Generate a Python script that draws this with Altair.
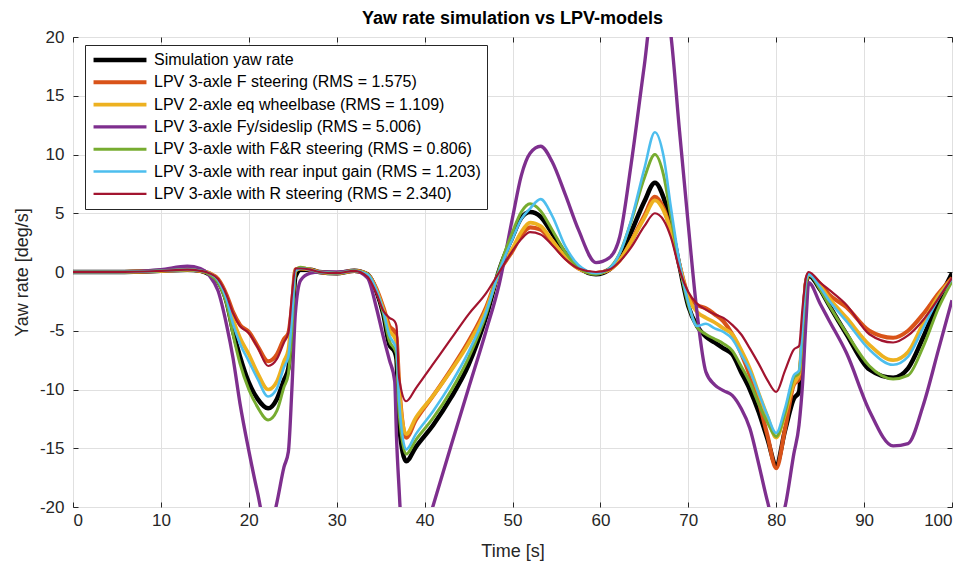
import altair as alt
import pandas as pd

# time samples [s]
T = [0, 5, 10, 13, 14.5, 15.5, 16.5, 17.5, 18.2, 19,
     20, 21, 22.2, 23.2, 24, 24.5, 24.9, 25.3, 25.9, 27,
     28, 30, 32, 33.5, 34.5, 35.3, 36, 36.6, 36.8, 37.1,
     37.9, 39, 41, 43, 45, 47, 48.5, 50, 51, 52,
     53.2, 54.5, 56, 57.5, 59.5, 61, 62.2, 63.5, 65, 66.2,
     67.2, 68, 69, 70, 71, 72, 73, 74, 75, 76,
     77, 78, 79, 80, 81, 82, 82.6, 83, 83.4, 83.7,
     85, 86, 88, 90.6, 93.3, 95, 96.7, 98.5, 100]

SIM = [0.0, 0.0, 0.1, 0.2, 0.1, -0.2, -0.8, -2.6, -5.0, -7.2,
       -9.4, -10.8, -11.6, -10.8, -9.2, -8.2, -5.0, -0.4, 0.2, 0.2,
       0.0, -0.1, 0.1, -0.2, -1.6, -3.6, -6.2, -6.8, -7.4, -13.0,
       -16.1, -14.9, -13.0, -10.7, -7.9, -3.8, 0.2, 3.0, 4.6, 5.1,
       4.7, 3.3, 1.6, 0.4, -0.2, 0.2, 1.3, 3.4, 6.0, 7.6,
       6.3, 4.1, 0.5, -2.9, -4.6, -5.5, -6.0, -6.5, -7.0, -8.5,
       -10.0, -11.9, -14.2, -16.4, -13.5, -10.8, -10.2, -6.0, -1.0, -0.3,
       -1.5, -2.8, -5.3, -8.3, -9.0, -8.2, -5.6, -2.4, -0.1]

F_STEER = [0.0, 0.0, 0.1, 0.2, 0.1, -0.1, -0.6, -2.0, -3.4, -4.5,
           -5.1, -6.3, -7.6, -7.0, -5.7, -5.2, -3.0, 0.2, 0.3, 0.2,
           0.0, -0.1, 0.1, -0.2, -1.4, -3.0, -4.6, -5.1, -5.6, -9.5,
           -14.1, -12.6, -10.5, -8.3, -5.9, -3.0, 0.0, 1.8, 3.1, 3.8,
           3.6, 2.5, 1.2, 0.3, -0.1, 0.2, 1.0, 2.6, 4.8, 6.4,
           5.4, 3.6, 0.6, -2.0, -2.8, -3.1, -3.6, -4.2, -5.3, -6.9,
           -8.8, -11.0, -13.9, -16.7, -13.4, -9.6, -9.1, -5.5, -0.8, -0.2,
           -1.0, -1.9, -3.0, -5.0, -5.6, -5.0, -3.6, -1.8, -0.5]

EQ_WB = [0.0, 0.0, 0.1, 0.2, 0.1, -0.1, -0.7, -2.2, -4.0, -5.6,
         -7.0, -8.6, -10.0, -9.3, -7.6, -6.6, -3.5, 0.1, 0.3, 0.2,
         0.0, -0.1, 0.1, -0.2, -1.5, -3.2, -5.0, -5.6, -6.0, -10.0,
         -13.8, -12.4, -10.5, -8.4, -6.1, -3.2, 0.0, 2.0, 3.4, 4.2,
         3.9, 2.7, 1.3, 0.3, -0.1, 0.2, 1.0, 2.6, 4.6, 6.1,
         5.2, 3.5, 0.6, -2.2, -3.4, -3.9, -4.3, -4.8, -5.3, -6.6,
         -8.2, -10.3, -12.3, -14.1, -12.1, -9.5, -8.7, -5.0, -0.8, -0.2,
         -1.2, -2.2, -3.9, -6.2, -7.5, -6.8, -4.4, -2.0, -0.6]

FY_SLIP = [0.0, 0.0, 0.2, 0.5, 0.3, -0.3, -1.6, -4.6, -7.3, -11.2,
           -15.2, -18.8, -22.5, -19.6, -16.6, -15.3, -10.0, -3.5, -0.7, -0.1,
           0.0, 0.0, 0.1, -0.5, -3.0, -5.5, -7.5, -9.3, -14.0, -18.5,
           -27.0, -24.5, -19.8, -14.8, -9.9, -5.0, -1.0, 4.6, 8.2, 10.1,
           10.7, 9.4, 6.6, 3.6, 0.8, 1.2, 3.0, 9.2, 17.6, 24.0,
           24.0, 20.3, 12.0, 4.0, -3.5, -8.5, -9.6, -10.1, -10.5, -11.6,
           -13.3, -16.3, -19.5, -22.0, -20.0, -15.5, -13.0, -9.5, -4.0, -0.9,
           -2.7, -4.1, -6.9, -11.8, -14.8, -14.6, -11.4, -6.5, -2.4]

FR_STEER = [0.0, 0.0, 0.1, 0.2, 0.1, -0.2, -0.9, -2.8, -5.3, -7.8,
            -10.0, -11.5, -12.6, -11.8, -9.8, -8.7, -5.0, 0.1, 0.4, 0.2,
            0.0, -0.1, 0.1, -0.2, -1.6, -3.5, -5.9, -6.6, -7.0, -12.0,
            -15.5, -14.3, -12.4, -10.1, -7.3, -3.6, 0.3, 3.4, 5.1, 5.8,
            5.2, 3.6, 1.7, 0.4, -0.2, 0.3, 1.6, 4.3, 8.0, 10.0,
            8.2, 4.8, 0.6, -2.8, -4.7, -5.3, -5.7, -6.1, -6.7, -8.0,
            -9.4, -11.2, -12.8, -14.0, -12.0, -9.0, -8.6, -5.0, -0.9, -0.2,
            -1.5, -2.8, -5.2, -8.0, -9.1, -8.8, -6.4, -3.0, -0.8]

REAR_GAIN = [0.0, 0.0, 0.1, 0.2, 0.1, -0.1, -0.7, -2.4, -4.4, -6.1,
             -7.6, -9.1, -10.6, -9.9, -8.1, -7.2, -4.0, 0.1, 0.3, 0.2,
             0.0, -0.1, 0.1, -0.2, -1.5, -3.3, -5.4, -6.2, -6.6, -11.0,
             -15.1, -13.8, -11.8, -9.5, -6.8, -3.4, 0.1, 2.8, 4.5, 5.4,
             6.2, 4.8, 2.2, 0.6, -0.1, 0.3, 1.6, 4.4, 8.8, 11.9,
             9.8, 5.6, 0.8, -2.6, -4.6, -4.4, -4.8, -5.1, -5.7, -7.0,
             -8.4, -10.3, -12.2, -13.7, -11.6, -8.8, -8.4, -4.5, -0.7, -0.2,
             -1.3, -2.4, -4.2, -6.6, -7.9, -7.2, -4.8, -2.2, -0.6]

R_STEER = [0.0, 0.0, 0.1, 0.2, 0.1, -0.1, -0.6, -2.0, -3.5, -4.6,
           -5.2, -6.4, -8.0, -7.4, -6.0, -5.2, -2.0, 0.3, 0.3, 0.2,
           0.0, -0.1, 0.1, -0.4, -1.8, -3.3, -3.9, -4.2, -4.6, -9.0,
           -11.0, -9.9, -7.8, -5.7, -3.6, -1.8, 0.0, 1.8, 2.8, 3.4,
           3.2, 2.3, 1.1, 0.3, 0.0, 0.2, 0.9, 2.1, 3.9, 5.0,
           4.4, 3.0, 0.2, -1.7, -2.7, -3.2, -3.6, -3.9, -4.5, -5.3,
           -6.5, -7.8, -9.2, -10.2, -8.4, -6.6, -6.3, -3.0, -0.4, 0.0,
           -0.9, -1.5, -2.8, -5.3, -6.0, -5.4, -4.1, -2.2, -0.5]

LABELS = ["Simulation yaw rate",
          "LPV 3-axle F steering (RMS = 1.575)",
          "LPV 2-axle eq wheelbase (RMS = 1.109)",
          "LPV 3-axle Fy/sideslip (RMS = 5.006)",
          "LPV 3-axle with F&R steering (RMS = 0.806)",
          "LPV 3-axle with rear input gain (RMS = 1.203)",
          "LPV 3-axle with R steering (RMS = 2.340)"]
COLORS = ["#000000", "#D95319", "#EDB120", "#7E2F8E", "#77AC30", "#4DBEEE", "#A2142F"]
WIDTHS = [4.5, 2.2, 2.2, 2.2, 2.2, 2.2, 2.2]
X_TICKS = [0, 10, 20, 30, 40, 50, 60, 70, 80, 90, 100]
Y_TICKS = [-20, -15, -10, -5, 0, 5, 10, 15, 20]

SERIES = [SIM, F_STEER, EQ_WB, FY_SLIP, FR_STEER, REAR_GAIN, R_STEER]
rows = []
for lab, vals in zip(LABELS, SERIES):
    for t, v in zip(T, vals):
        rows.append({"t": t, "v": v, "series": lab})
df = pd.DataFrame(rows)
ext = pd.DataFrame({"t": [X_TICKS[0], X_TICKS[-1]], "v": [Y_TICKS[0], Y_TICKS[-1]]})

FONT = "Liberation Sans"
TXT = "#262626"
GRID = "#e0e0e0"
HYPHEN = "replace(datum.label, '\u2212', '-')"

xscale = alt.Scale(domain=[0, 100], nice=False, zero=False)
yscale = alt.Scale(domain=[-20, 20], nice=False, zero=False)

legend = alt.Legend(
    title=None, orient="none", legendX=12, legendY=8,
    symbolType="stroke", symbolSize=2800, clipHeight=18, rowPadding=4.3,
    labelFont=FONT, labelFontSize=16, labelColor="#000000", labelLimit=600,
    labelOffset=5, padding=6, fillColor="white", strokeColor=TXT, cornerRadius=0,
)

lines = alt.Chart(df).mark_line(clip=True, interpolate="monotone").encode(
    x=alt.X("t:Q", scale=xscale,
            axis=alt.Axis(orient="bottom", values=X_TICKS, title="Time [s]", grid=True,
                          gridColor=GRID, ticks=False, tickSize=0, domain=False,
                          labelFontSize=17, labelPadding=5, titleFontSize=18,
                          titlePadding=14, labelExpr=HYPHEN)),
    y=alt.Y("v:Q", scale=yscale,
            axis=alt.Axis(orient="left", values=Y_TICKS, title="Yaw rate [deg/s]", grid=True,
                          gridColor=GRID, ticks=False, tickSize=0, domain=False,
                          labelFontSize=17, labelPadding=9, titleFontSize=18,
                          titlePadding=8, labelExpr=HYPHEN)),
    color=alt.Color("series:N", scale=alt.Scale(domain=LABELS, range=COLORS), legend=legend),
    strokeWidth=alt.StrokeWidth("series:N", scale=alt.Scale(domain=LABELS, range=WIDTHS), legend=legend),
)

tick_kw = dict(labels=False, domain=False, grid=False, ticks=True, tickSize=5,
               tickColor=TXT, tickWidth=1, title=None, offset=-5)

ticks_a = alt.Chart(ext).mark_point(opacity=0).encode(
    x=alt.X("t:Q", scale=xscale, axis=alt.Axis(orient="bottom", values=X_TICKS, **tick_kw)),
    y=alt.Y("v:Q", scale=yscale, axis=alt.Axis(orient="left", values=Y_TICKS, **tick_kw)),
)
ticks_b = alt.Chart(ext).mark_point(opacity=0).encode(
    x=alt.X("t:Q", scale=xscale, axis=alt.Axis(orient="top", values=X_TICKS, **tick_kw)),
    y=alt.Y("v:Q", scale=yscale, axis=alt.Axis(orient="right", values=Y_TICKS, **tick_kw)),
)

chart = alt.layer(lines, ticks_a, ticks_b).resolve_axis(
    x="independent", y="independent"
).properties(
    width=879, height=470, autosize="none",
    padding={"left": 73, "top": 37, "right": 16, "bottom": 58},
    title=alt.TitleParams(text="Yaw rate simulation vs LPV-models", fontSize=18,
                          fontWeight="bold", font=FONT, color="#000000",
                          anchor="middle", offset=0),
).configure_view(
    stroke=TXT, strokeWidth=1
).configure_axis(
    labelFont=FONT, titleFont=FONT, labelColor=TXT, titleColor=TXT,
    titleFontWeight="normal"
)

chart.save("out.html", embed_options={"renderer": "svg", "actions": False})
